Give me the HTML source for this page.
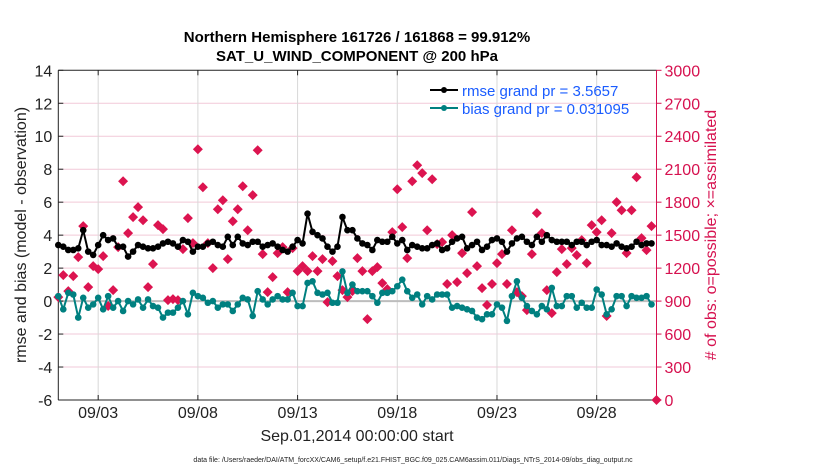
<!DOCTYPE html>
<html><head><meta charset="utf-8"><style>
body{margin:0;background:#fff;}
svg{display:block;font-family:"Liberation Sans",sans-serif;}
</style></head><body>
<svg id="chart" width="830" height="470">
<text x="357" y="42" text-anchor="middle" font-size="15" font-weight="bold">Northern Hemisphere 161726 / 161868 = 99.912%</text>
<text x="357" y="61" text-anchor="middle" font-size="15" font-weight="bold">SAT_U_WIND_COMPONENT @ 200 hPa</text>
<g id="grid"></g>
<g id="axes"></g>
<g id="marks"></g>
<text transform="translate(26,235) rotate(-90)" text-anchor="middle" font-size="16" fill="#222">rmse and bias (model - observation)</text>
<text transform="translate(716,235) rotate(-90)" text-anchor="middle" font-size="16" fill="#d6114f"># of obs: o=possible; ×=assimilated</text>
<text x="357" y="441" text-anchor="middle" font-size="16" fill="#222">Sep.01,2014 00:00:00 start</text>
<text x="413" y="462" text-anchor="middle" font-size="7" fill="#222">data file: /Users/raeder/DAI/ATM_forcXX/CAM6_setup/f.e21.FHIST_BGC.f09_025.CAM6assim.011/Diags_NTrS_2014-09/obs_diag_output.nc</text>
<g>
<line x1="430" y1="90" x2="458" y2="90" stroke="#000" stroke-width="2"/>
<circle cx="444" cy="90" r="3" fill="#000"/>
<text x="462" y="96" font-size="15" fill="#1a5cff">rmse grand pr = 3.5657</text>
<line x1="430" y1="108" x2="458" y2="108" stroke="#008080" stroke-width="2"/>
<circle cx="444" cy="108" r="3" fill="#008080"/>
<text x="462" y="114" font-size="15" fill="#1a5cff">bias grand pr = 0.031095</text>
</g>
</svg>
<script>
const dateTicks = [2, 7, 12, 17, 22, 27];
const dateLabels = ["09/03","09/08","09/13","09/18","09/23","09/28"];
const leftTicks = [-6,-4,-2,0,2,4,6,8,10,12,14];
const rightTicks = [0,300,600,900,1200,1500,1800,2100,2400,2700,3000];
const rmse = [3.4,3.3,3.1,3.1,3.2,4.3,3.0,2.8,3.4,4.0,3.7,3.8,
3.3,3.3,2.7,3.0,3.4,3.3,3.2,3.2,3.3,3.5,3.6,3.5,
3.3,3.7,3.6,3.0,3.3,3.3,3.5,3.6,3.4,3.3,3.9,3.4,
3.9,3.5,3.4,3.6,3.6,3.3,3.4,3.5,3.3,3.1,3.0,3.3,
3.7,3.5,5.3,4.2,4.0,3.8,3.3,3.0,3.3,5.1,4.3,4.3,3.8,3.5,
3.4,3.1,3.7,3.6,3.6,3.9,3.5,3.7,3.1,3.4,3.3,3.2,3.2,3.4,
3.5,3.1,3.2,3.6,3.8,3.9,3.2,3.4,3.6,3.1,3.3,3.7,
3.8,3.6,3.0,3.5,3.8,3.9,3.6,3.4,3.9,3.6,4.0,3.7,
3.6,3.6,3.6,3.4,3.6,3.6,3.4,3.6,3.7,3.4,3.4,3.3,
3.5,3.3,3.2,3.3,3.6,3.4,3.5,3.5];
const bias = [0.3,-0.5,0.5,0.4,-1.0,0.2,-0.4,-0.2,0.2,-0.5,0.3,-0.4,
0.0,-0.6,0.0,-0.2,0.1,-0.4,0.1,-0.3,-0.4,-1.0,-0.7,-0.7,
-0.4,0.0,-0.8,0.5,0.3,0.2,-0.1,0.0,-0.4,-0.2,-0.2,-0.6,
-0.2,0.2,0.1,-0.9,0.6,0.1,-0.2,0.1,0.3,0.1,0.1,0.5,
-0.3,-0.3,1.1,1.2,0.5,0.4,0.5,-0.1,-0.1,1.8,0.5,1.0,0.6,0.6,
0.6,0.3,-0.1,0.5,0.5,0.6,0.9,1.3,0.6,0.2,0.4,-0.2,0.3,0.1,
0.4,0.4,0.4,-0.4,-0.3,-0.4,-0.5,-0.6,-1.0,-1.1,-0.8,-0.8,
-0.2,-0.4,-1.2,0.3,1.2,0.2,-0.3,-0.6,-0.8,-0.3,-0.5,0.8,
-0.3,-0.3,0.3,0.3,-0.4,-0.1,-0.4,-0.4,0.7,0.4,-0.8,-0.5,
0.3,0.3,-0.3,0.3,0.2,0.2,0.3,-0.2];
const obsCount = [936,1136,991,1127,1300,1582,1027,1218,1191,1309,855,1000,1391,1991,1518,1664,1755,1636,1027,1236,
1591,1555,909,918,909,1373,1655,1427,2282,1936,1427,1200,1736,1818,1282,1627,1736,1945,1545,1864,
2273,1327,982,1118,1336,1391,982,1382,1173,1218,1173,1309,1173,1282,891,1264,1127,1000,936,
991,1291,1173,736,1173,1209,1064,1009,1527,1918,1573,1291,1991,2136,2064,1545,2009,1418,1436,1055,
1500,1073,1336,1155,1709,1218,1018,864,1055,1245,1327,1055,1545,982,945,818,1327,1700,1518,1000,
791,1164,1373,1236,1382,1318,1455,1245,1591,1527,1636,764,1518,1800,1727,1336,1727,2027,
1473,1364,1582,0];

const L=58.3,R=656.5,T=70.3,B=400;
const xS=d=>L+(d/30)*(R-L);
const yS=v=>B-(v+6)/20*(B-T);
const yR=c=>B-c/3000*(B-T);
const NS="http://www.w3.org/2000/svg";
function mk(tag,attrs,parent){const e=document.createElementNS(NS,tag);for(const k in attrs)e.setAttribute(k,attrs[k]);parent.appendChild(e);return e;}
const grid=document.getElementById('grid'),axes=document.getElementById('axes'),marks=document.getElementById('marks');

leftTicks.forEach(v=>{
  if(v>-6&&v<14){const g=mk('line',{x1:L,x2:R,y1:yS(v),y2:yS(v),stroke:'#f2c9d8','stroke-width':1},grid);
  
  }
  const t=mk('text',{x:L-6,y:yS(v)+6,'text-anchor':'end','font-size':16,fill:'#222'},axes);
  t.textContent=v;
  
  
  mk('line',{x1:L,x2:L+5,y1:yS(v),y2:yS(v),stroke:'#222'},axes);
});
dateTicks.forEach((d,i)=>{
  const g=mk('line',{x1:xS(d),x2:xS(d),y1:T,y2:B,stroke:'#d8d8d8','stroke-width':1},grid);
  
  
  mk('line',{x1:xS(d),x2:xS(d),y1:B,y2:B-5,stroke:'#222'},axes);
  mk('line',{x1:xS(d),x2:xS(d),y1:T,y2:T+5,stroke:'#222'},axes);
  const t=mk('text',{x:xS(d),y:418,'text-anchor':'middle','font-size':16,fill:'#222'},axes);
  t.textContent=dateLabels[i];
  
  
});
rightTicks.forEach(c=>{
  mk('line',{x1:R,x2:R+5,y1:yR(c),y2:yR(c),stroke:'#d6114f'},axes);
  const t=mk('text',{x:R+8,y:yR(c)+6,'font-size':16,fill:'#d6114f'},axes);
  t.textContent=c;
  
  
});
mk('line',{x1:L,x2:L,y1:T,y2:B,stroke:'#222'},axes);
mk('line',{x1:L,x2:R,y1:B,y2:B,stroke:'#222'},axes);
mk('line',{x1:L,x2:R,y1:T,y2:T,stroke:'#222'},axes);
mk('line',{x1:R,x2:R,y1:T,y2:B,stroke:'#d6114f'},axes);
const zl=mk('line',{x1:L,x2:R,y1:yS(0),y2:yS(0),stroke:'#bdbdbd','stroke-width':2},grid);



obsCount.forEach((c,i)=>{
  const x=xS(i*0.25),y=yR(c),s=5;
  const p=mk('polygon',{points:`${x},${y-s} ${x+s},${y} ${x},${y+s} ${x-s},${y}`,fill:'#dc1450'},marks);
  
  
});
function series(vals,color,name){
  const pts=vals.map((v,i)=>`${xS(i*0.25)},${yS(v)}`).join(' ');
  const pl=mk('polyline',{points:pts,fill:'none',stroke:color,'stroke-width':2},marks);
  
  
  vals.forEach((v,i)=>{
    const c=mk('circle',{cx:xS(i*0.25),cy:yS(v),r:3.3,fill:color},marks);
    
    
  });
}
series(bias,'#008080','bias');
series(rmse,'#000000','rmse');
</script>
</body></html>
